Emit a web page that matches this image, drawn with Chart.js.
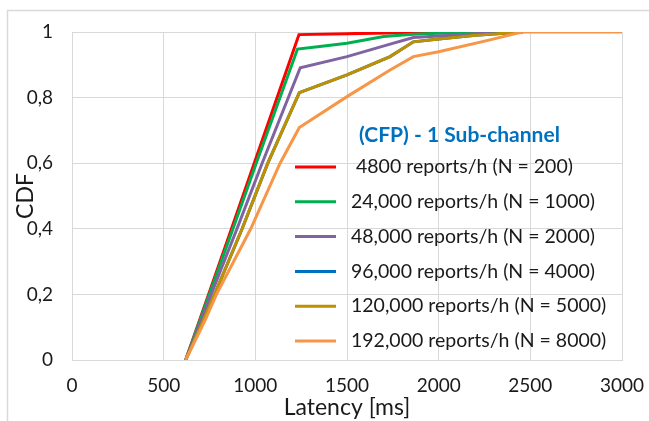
<!DOCTYPE html>
<html>
<head>
<meta charset="utf-8">
<script src="https://cdn.jsdelivr.net/npm/chart.js@4/dist/chart.umd.min.js"></script>
<style>
  html, body { margin: 0; padding: 0; background: #ffffff; }
  canvas { display: block; }
</style>
</head>
<body>
<canvas id="cdfChart" width="649" height="421"></canvas>
<script>
// Latency CDF curves, one pair of arrays per report rate (latency in ms, CDF value)
const legendTitle = '(CFP) - 1 Sub-channel';
const seriesLabels = [
  ' 4800 reports/h (N = 200)',
  '24,000 reports/h (N = 1000)',
  '48,000 reports/h (N = 2000)',
  '96,000 reports/h (N = 4000)',
  '120,000 reports/h (N = 5000)',
  '192,000 reports/h (N = 8000)'
];
const seriesColors = ['#FF0000', '#00B050', '#8064A2', '#0070C0', '#BF9000', '#F79646'];

const latency4800 = [620, 745, 870, 994, 1238, 1500, 1800, 2100, 2450];
const cdf4800     = [0, 0.2, 0.4, 0.6, 0.992, 0.995, 0.998, 1.0, 1.0];

const latency24000 = [620, 749, 878, 1005, 1230, 1340, 1500, 1700, 1860, 2000, 2450];
const cdf24000     = [0, 0.2, 0.4, 0.6, 0.948, 0.955, 0.966, 0.986, 0.993, 0.996, 1.0];

const latency48000 = [620, 759, 900, 1037, 1245, 1500, 1735, 1862, 2000, 2200, 2460];
const cdf48000     = [0, 0.2, 0.4, 0.6, 0.891, 0.925, 0.963, 0.983, 0.988, 0.995, 1.0];

const latency96000 = [620, 778, 928, 1068, 1240, 1500, 1735, 1862, 2000, 2200, 2460];
const cdf96000     = [0, 0.2, 0.4, 0.6, 0.815, 0.869, 0.925, 0.970, 0.979, 0.990, 1.0];

const latency120000 = [620, 778, 928, 1068, 1240, 1500, 1735, 1862, 2000, 2200, 2460];
const cdf120000     = [0, 0.2, 0.4, 0.6, 0.815, 0.869, 0.925, 0.970, 0.979, 0.990, 1.0];

const latency192000 = [620, 727, 788, 975, 1135, 1240, 1500, 1735, 1862, 2000, 2280, 2425, 2460, 3000];
const cdf192000     = [0, 0.122, 0.2, 0.4, 0.6, 0.709, 0.803, 0.884, 0.925, 0.940, 0.976, 0.996, 1.0, 1.0];

const xTickValues = [0, 500, 1000, 1500, 2000, 2500, 3000];
const yTickLabels = ['0', '0,2', '0,4', '0,6', '0,8', '1'];

const seriesLatency = [latency4800, latency24000, latency48000, latency96000, latency120000, latency192000];
const seriesCdf = [cdf4800, cdf24000, cdf48000, cdf96000, cdf120000, cdf192000];

const FONT = 'Lato, "Open Sans", sans-serif';

const datasets = seriesLabels.map((label, i) => ({
  label,
  data: seriesLatency[i].map((x, k) => ({ x, y: seriesCdf[i][k] })),
  borderColor: seriesColors[i],
  backgroundColor: seriesColors[i],
  borderWidth: 3,
  pointRadius: 0,
  tension: 0,
  fill: false,
  order: seriesLabels.length - i   // later series are drawn on top
}));

// White background and the light outer frame
const framePlugin = {
  id: 'frame',
  beforeDraw(chart) {
    const ctx = chart.ctx;
    ctx.save();
    ctx.fillStyle = '#ffffff';
    ctx.fillRect(0, 0, chart.width, chart.height);
    ctx.strokeStyle = '#D9D9D9';
    ctx.lineWidth = 1.5;
    ctx.strokeRect(7.5, 10.5, chart.width + 20, chart.height + 20);
    ctx.restore();
  }
};

// Legend drawn inside the plot area
const innerLegend = {
  id: 'innerLegend',
  afterDraw(chart, args, opts) {
    const { ctx, chartArea } = chart;
    ctx.save();
    ctx.textBaseline = 'middle';
    ctx.font = 'bold ' + opts.titleSize + 'px ' + FONT;
    ctx.fillStyle = '#0070C0';
    ctx.textAlign = 'left';
    ctx.fillText(legendTitle, chartArea.left + opts.titleX, chartArea.top + opts.titleY);
    ctx.font = opts.itemSize + 'px ' + FONT;
    chart.data.datasets.forEach((ds, i) => {
      const y = chartArea.top + opts.firstRowY + i * opts.rowGap;
      const x0 = chartArea.left + opts.sampleX;
      ctx.strokeStyle = ds.borderColor;
      ctx.lineWidth = 3;
      ctx.beginPath();
      ctx.moveTo(x0, y);
      ctx.lineTo(x0 + opts.sampleW, y);
      ctx.stroke();
      ctx.fillStyle = '#1a1a1a';
      ctx.fillText(ds.label, chartArea.left + opts.textX, y);
    });
    ctx.restore();
  }
};

new Chart(document.getElementById('cdfChart'), {
  type: 'line',
  data: { datasets },
  plugins: [framePlugin, innerLegend],
  options: {
    responsive: false,
    animation: false,
    layout: { padding: { left: 0, right: 27, top: 32, bottom: 0 } },
    plugins: {
      legend: { display: false },
      tooltip: { enabled: false },
      innerLegend: {
        titleX: 287, titleY: 103, titleSize: 21,
        sampleX: 223, sampleW: 41,
        textX: 279, firstRowY: 135, rowGap: 34.8, itemSize: 19.5
      }
    },
    scales: {
      x: {
        type: 'linear',
        min: 0, max: 3000,
        afterBuildTicks(scale) { scale.ticks = xTickValues.map(v => ({ value: v })); },
        afterFit(scale) {
          scale.height = 61;
          scale.paddingLeft = 0;
          scale.paddingRight = 0;
        },
        grid: { color: '#D9D9D9', lineWidth: 1, drawTicks: false },
        border: { color: '#D9D9D9' },
        ticks: {
          padding: 14,
          color: '#1a1a1a',
          font: { family: FONT, size: 19 },
          maxRotation: 0,
          callback: v => String(v)
        },
        title: {
          display: true, text: 'Latency [ms]',
          color: '#1a1a1a',
          font: { family: FONT, size: 23 },
          padding: { top: 0, bottom: 0 }
        }
      },
      y: {
        min: 0, max: 1,
        ticks: {
          stepSize: 0.2,
          padding: 19,
          color: '#1a1a1a',
          font: { family: FONT, size: 19 },
          callback: v => yTickLabels[Math.round(v / 0.2)]
        },
        afterFit(scale) { scale.width = 72; },
        grid: { color: '#D9D9D9', lineWidth: 1, drawTicks: false },
        border: { color: '#D9D9D9' },
        title: {
          display: true, text: 'CDF',
          color: '#1a1a1a',
          font: { family: FONT, size: 23 },
          padding: { top: 12, bottom: 0 }
        }
      }
    }
  }
});
</script>
</body>
</html>
